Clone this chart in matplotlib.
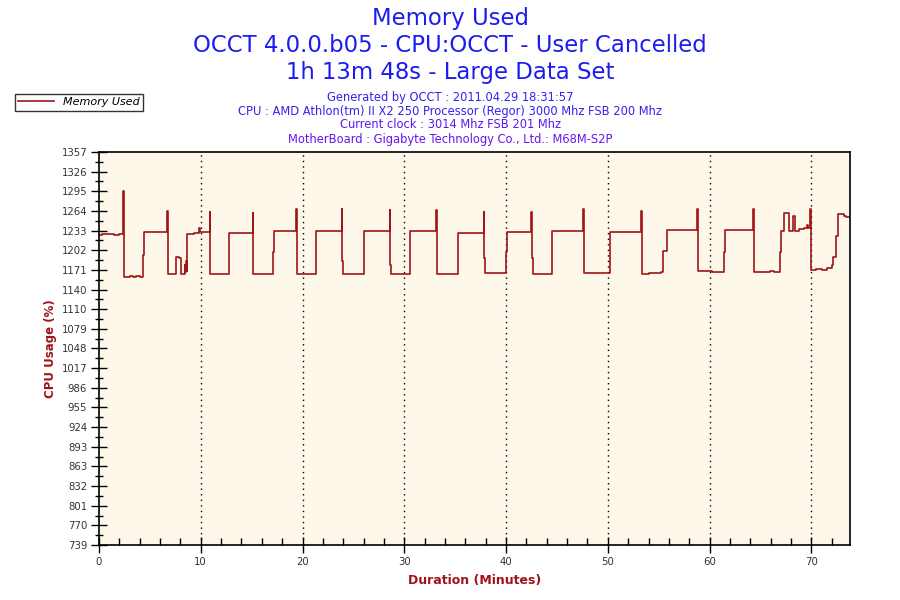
import matplotlib
matplotlib.use("Agg")
import matplotlib.pyplot as plt
from matplotlib.ticker import MultipleLocator, FixedLocator
import numpy as np

# ---- data ----
minutes = [0, 0.3, 1.5, 2.0, 2.35, 2.42, 2.45, 2.5, 3.0, 3.3, 3.6, 4.0, 4.35, 4.45,
           6.7, 6.75, 7.6, 7.9, 8.1, 8.45, 8.5, 8.55, 8.6, 8.65, 9.3, 9.6, 9.8, 9.9,
           10.9, 10.95, 12.75, 12.8, 15.1, 15.15, 17.1, 17.15, 19.4, 19.45, 19.5,
           21.3, 21.35, 23.85, 23.9, 23.95, 26.0, 26.05, 28.55, 28.6, 28.65,
           30.6, 33.15, 33.2, 33.25, 35.25, 35.3, 37.8, 37.85, 37.9, 38.5, 39.5,
           40.0, 40.05, 42.5, 42.55, 42.6, 44.5, 44.55, 47.6, 47.65, 47.7,
           50.2, 50.25, 53.3, 53.35, 53.4, 54.0, 54.8, 55.2, 55.4, 55.8, 58.4,
           58.8, 58.85, 58.9, 60.2, 61.4, 61.5, 64.3, 64.35, 64.4, 65.9, 66.3,
           66.9, 67.0, 67.3, 67.8, 68.2, 68.35, 68.8, 69.3, 69.6, 69.65, 69.9,
           69.95, 70.0, 70.5, 71.0, 71.5, 72.0, 72.1, 72.4, 72.6, 73.0, 73.2,
           73.4, 73.8]
memory = [1226, 1228, 1226, 1228, 1295, 1228, 1293, 1161, 1162, 1160, 1162, 1161, 1195, 1231,
          1264, 1165, 1192, 1191, 1165, 1180, 1168, 1185, 1170, 1228, 1229, 1230, 1237, 1231,
          1262, 1165, 1195, 1230, 1261, 1165, 1200, 1232, 1267, 1190, 1165,
          1195, 1232, 1267, 1185, 1165, 1195, 1232, 1266, 1180, 1165,
          1232, 1266, 1185, 1165, 1200, 1230, 1262, 1190, 1166, 1167, 1166,
          1200, 1231, 1262, 1190, 1165, 1200, 1232, 1267, 1190, 1166,
          1195, 1231, 1264, 1190, 1165, 1166, 1167, 1168, 1202, 1234, 1235,
          1268, 1195, 1170, 1168, 1200, 1234, 1268, 1190, 1168, 1170, 1168,
          1200, 1232, 1261, 1232, 1257, 1232, 1236, 1237, 1242, 1237, 1268,
          1200, 1171, 1173, 1172, 1174, 1180, 1192, 1225, 1259, 1260, 1257,
          1255, 1255]
ytick_labels = ["739", "770", "801", "832", "863", "893", "924", "955", "986", "1017",
                "1048", "1079", "1110", "1140", "1171", "1202", "1233", "1264",
                "1295", "1326", "1357"]
xtick_values = [0, 10, 20, 30, 40, 50, 60, 70]

title_lines = ["Memory Used",
               "OCCT 4.0.0.b05 - CPU:OCCT - User Cancelled",
               "1h 13m 48s - Large Data Set"]
info_lines = ["Generated by OCCT : 2011.04.29 18:31:57",
              "CPU : AMD Athlon(tm) II X2 250 Processor (Regor) 3000 Mhz FSB 200 Mhz",
              "Current clock : 3014 Mhz FSB 201 Mhz",
              "MotherBoard : Gigabyte Technology Co., Ltd.: M68M-S2P"]

plt.rcParams['font.family'] = ['DejaVu Sans']
fig = plt.figure(figsize=(9, 6), dpi=100)
fig.patch.set_facecolor('white')
ax = fig.add_axes([99/900, 1-545/600, (850-99)/900, (545-152)/600])
ax.set_facecolor('#fdf8e9')

line_color = '#a01418'
ax.plot(minutes, memory, drawstyle='steps-post', color=line_color, lw=1.2)

ymin, ymax = 739, 1357
ax.set_ylim(ymin, ymax)
ax.set_xlim(0, 73.8)
yt = np.linspace(ymin, ymax, len(ytick_labels))
ax.yaxis.set_major_locator(FixedLocator(yt))
ax.set_yticklabels(ytick_labels)
ax.yaxis.set_minor_locator(FixedLocator((yt[:-1] + yt[1:]) / 2))
ax.xaxis.set_major_locator(FixedLocator(xtick_values))
ax.xaxis.set_minor_locator(MultipleLocator(2))

ax.tick_params(axis='both', which='major', direction='inout', length=11, width=1,
               labelsize=7.3, labelcolor='#333333', color='black')
ax.tick_params(axis='y', which='minor', direction='inout', length=6, width=1, color='black')
ax.tick_params(axis='x', which='minor', direction='in', length=5, width=1, color='black')
ax.tick_params(axis='x', which='major', pad=3)
ax.tick_params(axis='y', which='major', pad=3)

for x in xtick_values[1:]:
    ax.axvline(x, color='black', lw=1, linestyle=(0, (1, 3)), zorder=0.5)

for s in ax.spines.values():
    s.set_color('black')
    s.set_linewidth(1.2)

ax.set_ylabel("CPU Usage (%)", color='#a01418', fontsize=8.5, fontweight='bold', labelpad=3)
ax.set_xlabel("Duration (Minutes)", color='#a01418', fontsize=9, fontweight='bold', labelpad=5)

# titles
ys = [19, 46, 72]
for t, y in zip(title_lines, ys):
    fig.text(0.5, 1 - y/600, t, ha='center', va='center', fontsize=16.4, color='#1c1cf0')
info_colors = ['#3522ee', '#3522ee', '#5a1aee', '#6a14ee']
ys2 = [97, 111, 125, 139]
for t, y, c in zip(info_lines, ys2, info_colors):
    fig.text(0.5, 1 - y/600, t, ha='center', va='center', fontsize=8.3, color=c)

# legend
leg = ax.legend(["Memory Used"], loc='upper left', bbox_to_anchor=(15/900, 1 - 94/600),
                bbox_transform=fig.transFigure, frameon=True, fancybox=False,
                prop={'size': 8, 'style': 'italic'}, handlelength=3.2,
                borderpad=0.3, handletextpad=0.8, borderaxespad=0)
leg.get_frame().set_edgecolor('black')
leg.get_frame().set_linewidth(1)

fig.savefig("out.png", dpi=100)
